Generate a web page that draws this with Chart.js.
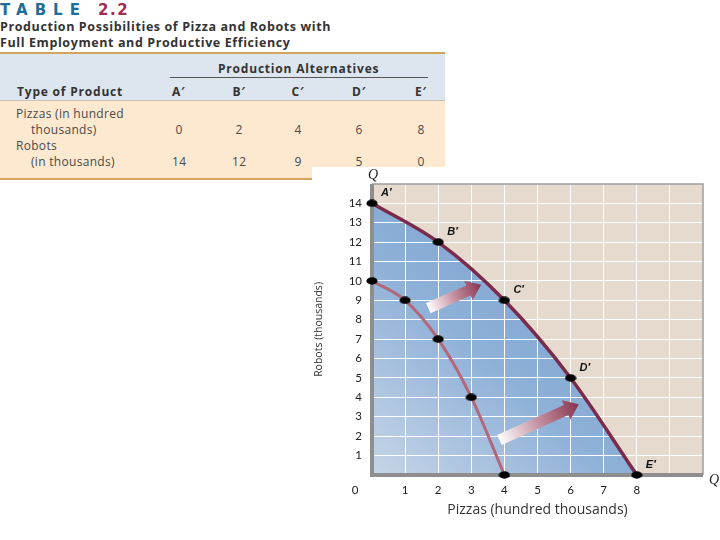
<!DOCTYPE html>
<html>
<head>
<meta charset="utf-8">
<script src="https://cdn.jsdelivr.net/npm/chart.js@4.4.0/dist/chart.umd.min.js"></script>
<style>
  html, body { margin:0; padding:0; background:#fff; width:720px; height:540px; overflow:hidden; }
  #tbl { position:absolute; left:0; top:0; width:445px; height:181px; font-family:"Open Sans", Lato, sans-serif; }
  #tbl .t { position:absolute; white-space:nowrap; }
  .ttl { top:1px; font-family:"DejaVu Sans", sans-serif; font-weight:bold; font-size:15px; }
  #title1 { left:0; letter-spacing:7px; color:#1e6f98; }
  #title2 { left:98px; letter-spacing:1.5px; color:#9c2f52; }
  .sub { left:0; font-weight:bold; font-size:12.5px; letter-spacing:0.6px; color:#333; }
  #gold1 { position:absolute; left:0; top:52px; width:445px; height:2px; background:#d4a459; }
  #head { position:absolute; left:0; top:54px; width:445px; height:46px; background:#dde5ee; border-bottom:1px solid #c9c2b8; }
  #body { position:absolute; left:0; top:101px; width:445px; height:77px; background:#fde9cf; }
  #gold2 { position:absolute; left:0; top:178px; width:445px; height:2px; background:#d4a459; }
  #uline { position:absolute; left:170px; top:77px; width:258px; height:1px; background:#555; }
  .hd { font-weight:bold; font-size:12px; letter-spacing:0.8px; color:#333; }
  .bd { font-size:12px; letter-spacing:0.3px; color:#4a4a4a; }
  #chartBox { position:absolute; left:312px; top:167px; width:408px; height:373px; background:#fff; }
</style>
</head>
<body>
<div id="tbl">
  <div class="t ttl" id="title1">TABLE</div>
  <div class="t ttl" id="title2">2.2</div>
  <div class="t sub" style="top:18px">Production Possibilities of Pizza and Robots with</div>
  <div class="t sub" style="top:34px">Full Employment and Productive Efficiency</div>
  <div id="gold1"></div>
  <div id="head"></div>
  <div id="body"></div>
  <div id="gold2"></div>
  <div id="uline"></div>
  <div class="t hd" style="left:218px; top:60px">Production Alternatives</div>
  <div class="t hd" style="left:17px; top:83px">Type of Product</div>
  <div class="t bd" style="left:16px; top:105px">Pizzas (in hundred</div>
  <div class="t bd" style="left:31px; top:121px">thousands)</div>
  <div class="t bd" style="left:16px; top:137px">Robots</div>
  <div class="t bd" style="left:31px; top:153px">(in thousands)</div>
</div>
<div id="chartBox"><canvas id="c" width="408" height="373"></canvas></div>
<script>
// ---- data ----
const alternatives = ["A′", "B′", "C′", "D′", "E′"];
const pizzasOuter = [0, 2, 4, 6, 8];
const robotsOuter = [14, 12, 9, 5, 0];
const pizzasInner = [0, 1, 2, 3, 4];
const robotsInner = [10, 9, 7, 4, 0];
const xTickLabels = [1, 2, 3, 4, 5, 6, 7, 8];
const yTickLabels = [1, 2, 3, 4, 5, 6, 7, 8, 9, 10, 11, 12, 13, 14];
const arrowTails = [[1.7, 8.6], [3.85, 1.8]];
const arrowHeads = [[3.3, 9.8], [6.25, 3.65]];

// ---- table built from the data ----
const colX = [179, 239, 298, 359, 421];
const tbl = document.getElementById('tbl');
function addCell(txt, cx, top, cls) {
  const d = document.createElement('div');
  d.className = 't ' + cls;
  d.textContent = txt;
  d.style.top = top + 'px';
  tbl.appendChild(d);
  d.style.left = (cx - d.offsetWidth / 2) + 'px';
}
alternatives.forEach((a, i) => addCell(a, colX[i], 83, 'hd'));
pizzasOuter.forEach((v, i) => addCell(String(v), colX[i], 121, 'bd'));
robotsOuter.forEach((v, i) => addCell(String(v), colX[i], 153, 'bd'));

// ---- chart ----
const ellipse = document.createElement('canvas');
ellipse.width = 12; ellipse.height = 8;
(function(){ const g = ellipse.getContext('2d'); g.fillStyle = '#000'; g.beginPath(); g.ellipse(6, 4, 5.6, 3.7, 0, 0, Math.PI*2); g.fill(); })();

const tickFont = { family: 'Lato, "Open Sans", sans-serif', size: 11.5 };

const bgPlugin = {
  id: 'bg',
  beforeDraw(chart) {
    const { ctx, chartArea: a } = chart;
    ctx.save();
    ctx.fillStyle = '#e6dace';
    ctx.fillRect(a.left, a.top, a.right - a.left, a.bottom - a.top);
    ctx.restore();
  },
  beforeDatasetsDraw(chart) {
    const { ctx, chartArea: a } = chart;
    // re-draw the library grid on top of the fill
    chart.scales.x.drawGrid(a);
    chart.scales.y.drawGrid(a);
    ctx.save();
    ctx.strokeStyle = '#9d9d9d';
    ctx.lineWidth = 1.5;
    ctx.beginPath();
    ctx.moveTo(a.left, a.top); ctx.lineTo(a.right, a.top); ctx.lineTo(a.right, a.bottom);
    ctx.stroke();
    ctx.fillStyle = '#8e8e8e';
    ctx.fillRect(a.left - 2, a.top, 4, a.bottom - a.top + 2);
    ctx.fillRect(a.left - 2, a.bottom - 2, a.right - a.left + 2, 4);
    ctx.restore();
  },
  afterDatasetsDraw(chart) {
    const { ctx, chartArea: a, scales: { x, y } } = chart;
    // arrows
    arrowTails.forEach((t, i) => {
      const h = arrowHeads[i];
      const x1 = x.getPixelForValue(t[0]), y1 = y.getPixelForValue(t[1]);
      const x2 = x.getPixelForValue(h[0]), y2 = y.getPixelForValue(h[1]);
      const ang = Math.atan2(y2 - y1, x2 - x1);
      const len = Math.hypot(x2 - x1, y2 - y1);
      const bw = 5.5, hw = 10.5, hl = 14;
      ctx.save();
      ctx.translate(x1, y1); ctx.rotate(ang);
      const g = ctx.createLinearGradient(0, 0, len, 0);
      g.addColorStop(0, '#ffffff');
      g.addColorStop(0.5, '#c38e9e');
      g.addColorStop(1, '#883450');
      ctx.fillStyle = g;
      ctx.beginPath();
      ctx.moveTo(0, -bw); ctx.lineTo(len - hl, -bw); ctx.lineTo(len - hl, -hw);
      ctx.lineTo(len, 0); ctx.lineTo(len - hl, hw); ctx.lineTo(len - hl, bw);
      ctx.lineTo(0, bw); ctx.closePath(); ctx.fill();
      ctx.restore();
    });
    // point labels
    ctx.save();
    ctx.fillStyle = '#111';
    ctx.font = 'italic bold 11px "Liberation Sans", Arial, sans-serif';
    ctx.textBaseline = 'middle';
    ctx.textAlign = 'left';
    alternatives.forEach((lab, i) => {
      ctx.fillText(lab, x.getPixelForValue(pizzasOuter[i]) + 9, y.getPixelForValue(robotsOuter[i]) - 10);
    });
    // Q labels and origin
    ctx.font = 'italic 14px "Liberation Serif", serif';
    ctx.textAlign = 'center';
    ctx.fillStyle = '#222';
    ctx.fillText('Q', a.left + 1, a.top - 9);
    ctx.fillText('Q', a.right + 11, a.bottom + 5);
    ctx.font = '11.5px Lato, "Open Sans", sans-serif';
    ctx.fillStyle = '#222';
    ctx.fillText('0', a.left - 17, a.bottom + 15);
    ctx.restore();
  }
};

function blueFill(ctx) {
  const chart = ctx.chart;
  const a = chart.chartArea;
  if (!a) return '#8fb0d6';
  const g = chart.ctx.createLinearGradient(a.left, a.bottom, a.left + (a.right - a.left) * 0.6, a.top + (a.bottom - a.top) * 0.25);
  g.addColorStop(0, '#c6d5e7');
  g.addColorStop(0.55, '#8fb1d8');
  g.addColorStop(1, '#7aa2cf');
  return g;
}

new Chart(document.getElementById('c'), {
  type: 'line',
  data: {
    datasets: [
      {
        data: pizzasInner.map((v, i) => ({ x: v, y: robotsInner[i] })),
        borderColor: '#b3687a',
        borderWidth: 3,
        fill: false,
        cubicInterpolationMode: 'monotone',
        pointStyle: ellipse,
        pointRadius: 5,
        clip: false
      },
      {
        data: pizzasOuter.map((v, i) => ({ x: v, y: robotsOuter[i] })),
        borderColor: '#7a2b4b',
        borderWidth: 3.5,
        fill: 'origin',
        backgroundColor: blueFill,
        cubicInterpolationMode: 'monotone',
        pointStyle: ellipse,
        pointRadius: 5,
        clip: false
      }
    ]
  },
  options: {
    responsive: false,
    animation: false,
    events: [],
    layout: { padding: { top: 16, right: 17, left: 0, bottom: 0 } },
    plugins: {
      legend: { display: false },
      tooltip: { enabled: false },
      filler: { drawTime: 'beforeDatasetsDraw' }
    },
    scales: {
      x: {
        type: 'linear', min: 0, max: 10,
        afterBuildTicks: s => { s.ticks = [0,1,2,3,4,5,6,7,8,9,10].map(v => ({ value: v })); },
        afterFit: s => { s.height = 65; },
        ticks: { callback: v => xTickLabels.includes(v) ? String(v) : '', padding: 8, font: tickFont, color: '#222', maxRotation: 0, autoSkip: false },
        grid: { color: '#ffffff', lineWidth: 1, drawTicks: false },
        border: { display: false },
        title: { display: true, text: 'Pizzas (hundred thousands)', font: { family: '"Open Sans", Lato, sans-serif', size: 14 }, color: '#333', padding: { top: 0, bottom: 22 } }
      },
      y: {
        type: 'linear', min: 0, max: 15,
        afterBuildTicks: s => { s.ticks = [0,1,2,3,4,5,6,7,8,9,10,11,12,13,14,15].map(v => ({ value: v })); },
        afterFit: s => { s.width = 60; },
        ticks: { callback: v => yTickLabels.includes(v) ? String(v) : '', padding: 10, font: tickFont, color: '#222', autoSkip: false },
        grid: { color: '#ffffff', lineWidth: 1, drawTicks: false },
        border: { display: false },
        title: { display: true, text: 'Robots (thousands)', font: { family: '"Open Sans", Lato, sans-serif', size: 10.5 }, color: '#333', padding: { top: 1, bottom: 0 } }
      }
    }
  },
  plugins: [bgPlugin]
});
</script>
</body>
</html>
